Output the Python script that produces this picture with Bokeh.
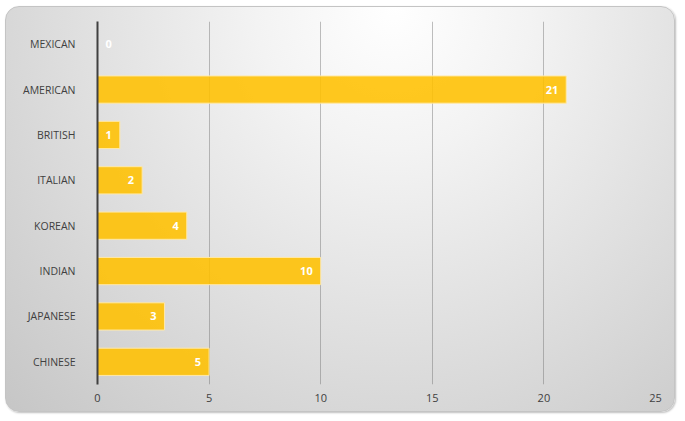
from bokeh.plotting import figure
from bokeh.models import ColumnDataSource, FixedTicker
from bokeh.embed import file_html
from bokeh.resources import INLINE

categories = ["CHINESE", "JAPANESE", "INDIAN", "KOREAN", "ITALIAN", "BRITISH", "AMERICAN", "MEXICAN"]
values = [5, 3, 10, 4, 2, 1, 21, 0]
x_ticks = [0, 5, 10, 15, 20, 25]

src = ColumnDataSource(dict(
    cat=categories,
    val=values,
    lbl=[str(v) for v in values],
    align=["right" if v > 0 else "left" for v in values],
    xoff=[-8 if v > 0 else 8 for v in values],
))

p = figure(
    width=670, height=406,
    y_range=categories, x_range=(0, 25),
    output_backend="svg", toolbar_location=None,
    min_border_left=91, min_border_right=21, min_border_top=14, min_border_bottom=29,
    styles={
        "margin-left": "5px", "margin-top": "6px",
        "background": "radial-gradient(ellipse farthest-corner at 58% 0%, #ffffff 0%, #f3f3f3 25%, #c6c6c6 100%)",
        "border": "1px solid #c4c4c4",
        "border-radius": "14px",
        "box-shadow": "1px 1px 2px rgba(0,0,0,0.25)",
        "overflow": "hidden",
    },
)
p.background_fill_alpha = 0
p.border_fill_alpha = 0
p.outline_line_color = None

p.hbar(y="cat", right="val", left=0, height=0.6, source=src,
       fill_color="#FFC000", fill_alpha=0.88, line_color="#FFE9A8", line_width=1)

p.text(x="val", y="cat", text="lbl", source=src, text_align="align", x_offset="xoff",
       text_baseline="middle", text_color="white", text_font_size="11px",
       text_font_style="bold", text_font={"value": "Open Sans"})

p.xaxis.ticker = FixedTicker(ticks=x_ticks)
p.xaxis.axis_line_color = None
p.xaxis.major_tick_line_color = None
p.xaxis.minor_tick_line_color = None
p.xaxis.major_label_standoff = 3
p.xaxis.major_label_text_font = "Open Sans"
p.xaxis.major_label_text_font_size = "11px"
p.xaxis.major_label_text_color = "#404040"

p.yaxis.axis_line_color = "#404040"
p.yaxis.axis_line_width = 2
p.yaxis.major_tick_line_color = None
p.yaxis.minor_tick_line_color = None
p.yaxis.major_label_standoff = 16
p.yaxis.major_label_text_font = "Open Sans"
p.yaxis.major_label_text_font_size = "10.5px"
p.yaxis.major_label_text_color = "#404040"

p.xgrid.grid_line_color = "#707070"
p.xgrid.grid_line_alpha = 0.45
p.xgrid.ticker = FixedTicker(ticks=x_ticks)
p.ygrid.grid_line_color = None

open("out.html", "w").write(file_html(p, INLINE))
